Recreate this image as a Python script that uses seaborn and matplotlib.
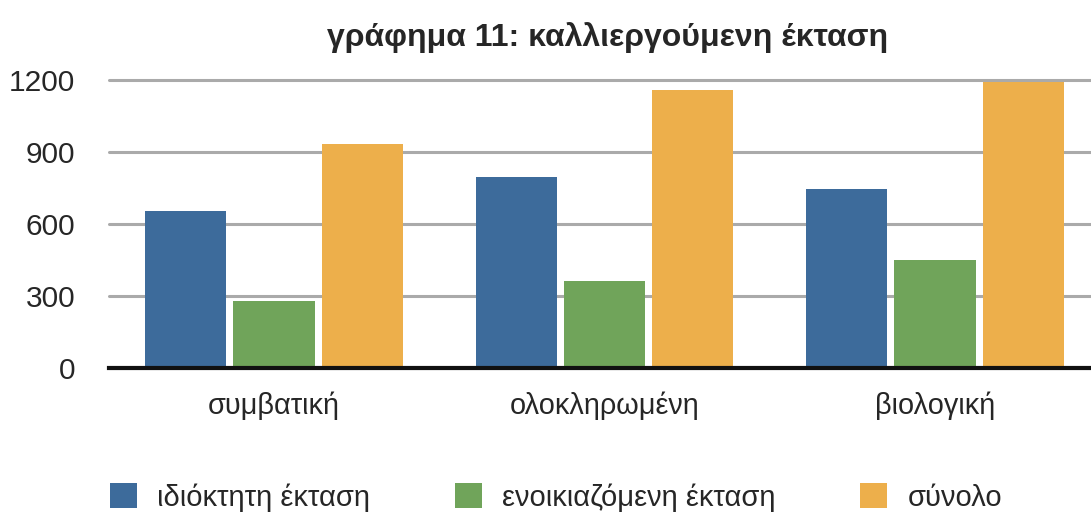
import matplotlib
matplotlib.use("Agg")
import matplotlib.pyplot as plt
import seaborn as sns
import pandas as pd

categories = ["συμβατική", "ολοκληρωμένη", "βιολογική"]
series_names = ["ιδιόκτητη έκταση", "ενοικιαζόμενη έκταση", "σύνολο"]
owned = [655, 795, 745]
rented = [280, 365, 450]
total = [935, 1160, 1195]
y_ticks = [0, 300, 600, 900, 1200]
colors = ["#3D6B9B", "#70A45A", "#EDAF4B"]
title = "γράφημα 11: καλλιεργούμενη έκταση"

rows = []
for name, vals in zip(series_names, [owned, rented, total]):
    for cat, v in zip(categories, vals):
        rows.append({"category": cat, "series": name, "value": v})
df = pd.DataFrame(rows)

sns.set_theme(style="white")
plt.rcParams["font.family"] = ["Liberation Sans", "DejaVu Sans"]

fig = plt.figure(figsize=(10.91, 5.13), dpi=100)
ax = fig.add_axes([0.0997, 0.2827, 0.9088, 0.5605])

sns.barplot(data=df, x="category", y="value", hue="series",
            order=categories, hue_order=series_names,
            palette=colors, width=0.8, gap=0.08, saturation=1,
            edgecolor="none", linewidth=0, errorbar=None, ax=ax)

ax.set_xlim(-0.5, 2.5)
ax.set_ylim(0, 1200)
ax.set_yticks(y_ticks)
ax.set_yticklabels([str(t) for t in y_ticks], fontsize=21.5)
ax.yaxis.grid(True, color="#AAAAAA", linewidth=2.2)
ax.set_axisbelow(True)
for gl in ax.get_ygridlines():
    gl.set_clip_on(False)
ax.tick_params(axis="y", length=0, pad=24)
ax.tick_params(axis="x", length=0, pad=17, labelsize=20.8)
ax.set_xlabel("")
ax.set_ylabel("")
for s in ["top", "right", "left"]:
    ax.spines[s].set_visible(False)
ax.spines["bottom"].set_color("#111111")
ax.spines["bottom"].set_linewidth(3)
ax.spines["bottom"].set_zorder(5)

handles, labels = ax.get_legend_handles_labels()
ax.legend_.remove()
fig.legend(handles, labels, loc="center", bbox_to_anchor=(0.5096, 0.03),
           ncol=3, frameon=False, fontsize=21,
           handlelength=0.93, handleheight=0.93, handletextpad=0.69,
           columnspacing=2.9)

fig.text(0.557, 0.927, title, ha="center", va="center",
         fontsize=23, fontweight="bold")

fig.savefig("out.png", dpi=100, facecolor="white")
